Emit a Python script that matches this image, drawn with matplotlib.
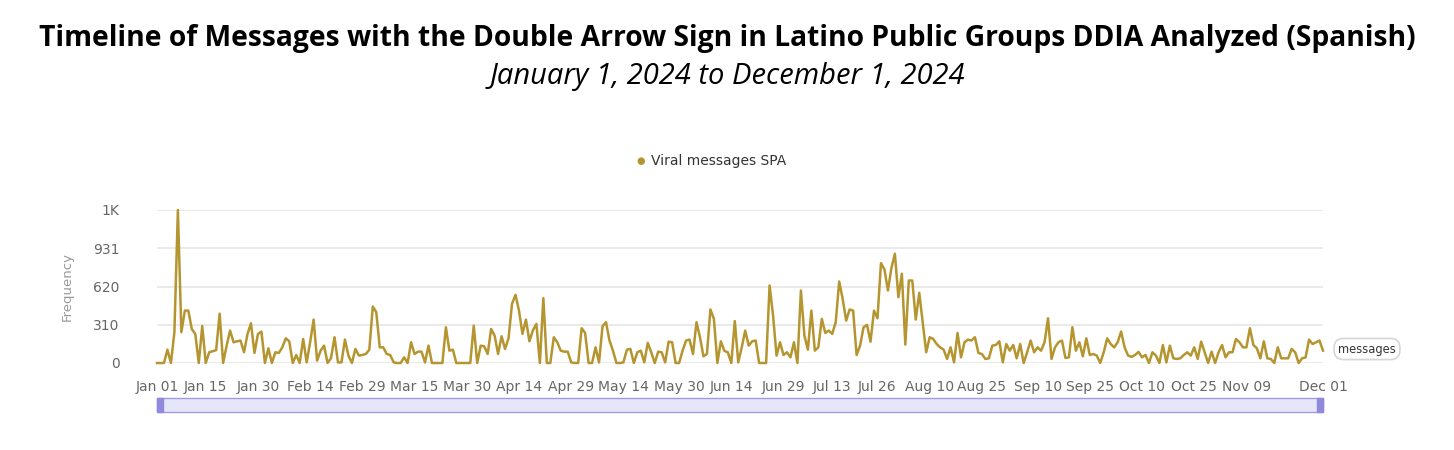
import matplotlib
matplotlib.use('Agg')
import matplotlib.pyplot as plt
import numpy as np
import pandas as pd
from matplotlib.patches import Rectangle

# daily counts, Jan 01 .. Dec 01 2024
start_date = '2024-01-01'
end_date = '2024-12-01'
counts = [
    0, 0, 0, 108, 0, 250, 1241, 250, 425, 425,
    275, 235, 0, 300, 0, 87, 95, 105, 400, 0,
    140, 263, 168, 176, 182, 87, 235, 322, 81, 235,
    255, 0, 119, 0, 87, 81, 127, 200, 176, 0,
    65, 0, 195, 5, 168, 352, 19, 100, 141, 0,
    40, 209, 5, 5, 190, 60, 0, 114, 60, 65,
    73, 108, 458, 412, 127, 127, 73, 65, 5, 0,
    0, 46, 0, 168, 73, 92, 92, 5, 141, 0,
    0, 0, 0, 290, 100, 108, 0, 0, 0, 0,
    0, 303, 0, 141, 135, 73, 276, 222, 73, 217,
    114, 200, 480, 553, 425, 236, 352, 176, 265, 317,
    0, 526, 0, 0, 209, 168, 100, 92, 92, 5,
    0, 0, 282, 244, 0, 0, 127, 5, 298, 331,
    182, 100, 0, 0, 5, 108, 114, 0, 87, 100,
    5, 163, 87, 0, 92, 87, 5, 173, 168, 0,
    0, 100, 182, 190, 73, 331, 209, 54, 73, 434,
    358, 0, 176, 98, 87, 0, 340, 5, 127, 263,
    141, 176, 182, 0, 0, 0, 629, 385, 60, 168,
    65, 87, 46, 168, 0, 588, 222, 108, 425, 100,
    127, 358, 244, 263, 236, 331, 661, 520, 344, 434,
    425, 65, 141, 290, 309, 173, 425, 363, 810, 759,
    588, 770, 886, 534, 724, 149, 669, 669, 352, 569,
    331, 87, 209, 195, 154, 127, 108, 33, 127, 5,
    244, 46, 168, 190, 182, 209, 81, 73, 33, 38,
    141, 146, 176, 5, 154, 100, 146, 38, 154, 0,
    87, 182, 87, 127, 100, 168, 363, 33, 127, 168,
    182, 41, 46, 290, 100, 168, 54, 200, 65, 73,
    60, 0, 87, 200, 154, 127, 168, 255, 127, 60,
    50, 65, 90, 46, 65, 0, 87, 60, 0, 146,
    5, 141, 38, 33, 38, 65, 87, 60, 127, 33,
    173, 87, 0, 92, 0, 87, 146, 46, 87, 87,
    195, 168, 127, 127, 282, 146, 119, 38, 176, 38,
    33, 0, 127, 38, 38, 38, 114, 87, 0, 38,
    46, 190, 154, 168, 182, 100,
]
tick_labels = ['Jan 01', 'Jan 15', 'Jan 30', 'Feb 14', 'Feb 29', 'Mar 15',
               'Mar 30', 'Apr 14', 'Apr 29', 'May 14', 'May 30', 'Jun 14',
               'Jun 29', 'Jul 13', 'Jul 26', 'Aug 10', 'Aug 25', 'Sep 10',
               'Sep 25', 'Oct 10', 'Oct 25', 'Nov 09', 'Dec 01']
ytick_vals = [0, 310, 620, 931, 1241]
ytick_labels = ['0', '310', '620', '931', '1K']
series_name = 'Viral messages SPA'

dates = pd.date_range(start_date, end_date, freq='D')
tick_dates = pd.to_datetime([t + ' 2024' for t in tick_labels], format='%b %d %Y')

line_color = '#b5952f'
grid_color = '#e6e6e6'
label_color = '#666666'

fig = plt.figure(figsize=(14.54, 4.5), dpi=100)

# titles
fig.text(0.5, 0.915, 'Timeline of Messages with the Double Arrow Sign in Latino Public Groups DDIA Analyzed (Spanish)',
         ha='center', va='center', fontsize=20.3, fontweight='bold', family='Open Sans', color='black')
fig.text(0.5, 0.83, 'January 1, 2024 to December 1, 2024',
         ha='center', va='center', fontsize=21, style='italic', family='Open Sans', color='black')

ax = fig.add_axes([157 / 1454, 1 - 363 / 450, (1323 - 157) / 1454, (363 - 210) / 450])
ax.plot(dates, counts, color=line_color, lw=1.8, clip_on=False, zorder=3)
ax.set_xlim(dates[0], dates[-1])
ax.set_ylim(0, ytick_vals[-1])

ax.set_yticks(ytick_vals)
ax.set_yticklabels(ytick_labels)
ax.set_xticks(tick_dates)
ax.set_xticklabels(tick_labels)
ax.tick_params(axis='both', length=0, labelsize=10, labelcolor=label_color)
ax.tick_params(axis='y', pad=27)
ax.tick_params(axis='x', pad=12)
ax.grid(axis='y', color=grid_color, lw=1.2)
ax.set_axisbelow(True)
for s in ax.spines.values():
    s.set_visible(False)
ax.set_ylabel('Frequency', color='#999999', fontsize=9.5, labelpad=14)

# legend: dot + name
fig.text(641 / 1454, 1 - 161 / 450, '\u25CF', color=line_color, fontsize=7, ha='center', va='center')
fig.text(651 / 1454, 1 - 161 / 450, series_name, color='#333333', fontsize=10, ha='left', va='center')

# "messages" pill at right
fig.text(1367 / 1454, 1 - 349 / 450, 'messages', color='#333333', fontsize=8.3, ha='center', va='center',
         bbox=dict(boxstyle='round,pad=0.35,rounding_size=0.8', fc='white', ec='#d6d6d6', lw=1.2))

# range slider under the plot
x0, x1 = 157 / 1454, 1323 / 1454
yb, h = 1 - 412 / 450, 14 / 450
fig.patches.append(Rectangle((x0, yb), x1 - x0, h, transform=fig.transFigure,
                             fc='#e6e6fa', ec='#a09be0', lw=1))
for hx in (x0, x1 - 6 / 1454):
    fig.patches.append(Rectangle((hx, yb), 6 / 1454, h, transform=fig.transFigure,
                                 fc='#9089dc', ec='#9089dc', lw=1))

fig.savefig('out.png', dpi=100)
